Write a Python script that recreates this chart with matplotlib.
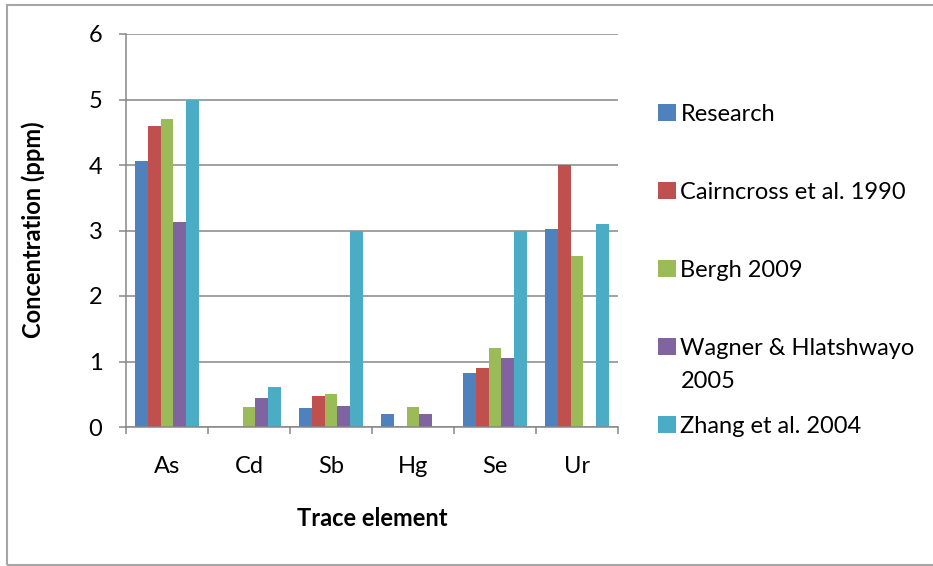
import matplotlib
matplotlib.use("Agg")
import matplotlib.pyplot as plt
from matplotlib.patches import Rectangle
from matplotlib.ticker import FixedLocator, NullFormatter, FixedFormatter
import numpy as np

plt.rcParams['font.family'] = ['Lato', 'DejaVu Sans']

elements = ["As", "Cd", "Sb", "Hg", "Se", "Ur"]
series_names = ["Research", "Cairncross et al. 1990", "Bergh 2009",
                "Wagner & Hlatshwayo", "Zhang et al. 2004"]
research = [4.06, 0.0, 0.29, 0.20, 0.82, 3.02]
cairncross = [4.60, 0.0, 0.47, 0.0, 0.90, 4.00]
bergh = [4.70, 0.30, 0.50, 0.31, 1.20, 2.61]
wagner = [3.13, 0.44, 0.32, 0.20, 1.05, 0.0]
zhang = [5.00, 0.61, 3.00, 0.0, 3.00, 3.10]
series_values = [research, cairncross, bergh, wagner, zhang]
colors = ["#4F81BD", "#C0504D", "#9BBB59", "#8064A2", "#4BACC6"]
y_ticks = [0, 1, 2, 3, 4, 5, 6]

FS = 17
W, H = 933, 566
fig = plt.figure(figsize=(W / 100, H / 100), dpi=100)
ax = fig.add_axes([126 / W, 1 - 427 / H, (618 - 126) / W, (427 - 34) / H])

grid_c = "#878787"
n = len(series_values)
bw = 0.156
centers = np.arange(len(elements)) + 0.5
for j, (vals, c, name) in enumerate(zip(series_values, colors, series_names)):
    ax.bar(centers + (j - (n - 1) / 2) * bw, vals, width=bw, color=c,
           label=name, zorder=3, linewidth=0)

ax.set_xlim(0, len(elements))
ax.set_ylim(0, 6)
ax.set_yticks(y_ticks)
ax.yaxis.grid(True, color=grid_c, linewidth=1.1, zorder=0)
ax.tick_params(axis='y', length=5, width=1.1, color=grid_c, pad=12,
               labelsize=FS)

ax.xaxis.set_major_locator(FixedLocator(np.arange(len(elements) + 1)))
ax.xaxis.set_major_formatter(NullFormatter())
ax.xaxis.set_minor_locator(FixedLocator(centers))
ax.xaxis.set_minor_formatter(FixedFormatter(elements))
ax.tick_params(axis='x', which='major', length=5, width=1.1, color=grid_c)
ax.tick_params(axis='x', which='minor', length=0, pad=21, labelsize=FS)

for s in ["top", "right"]:
    ax.spines[s].set_visible(False)
for s in ["left", "bottom"]:
    ax.spines[s].set_color(grid_c)
    ax.spines[s].set_linewidth(1.1)
    ax.spines[s].set_zorder(4)

fig.text(372 / W, 1 - 518 / H, "Trace element", ha="center", va="center",
         fontsize=FS, fontweight="bold")
fig.text(33 / W, 1 - 230 / H, "Concentration (ppm)", ha="center", va="center",
         rotation=90, fontsize=FS, fontweight="bold")

leg = ax.legend(loc="upper left", bbox_to_anchor=(658 / W, 1 - 104 / H),
                bbox_transform=fig.transFigure, frameon=False, fontsize=FS,
                handlelength=0.75, handleheight=0.75, handletextpad=0.2,
                labelspacing=2.41, borderaxespad=0, borderpad=0)

# second line of the Wagner & Hlatshwayo entry
fig.canvas.draw()
bb = leg.get_texts()[3].get_window_extent()
fig.text(bb.x0 / W, (bb.y0 - 12) / H, "2005", ha="left", va="top", fontsize=FS)

# outer chart border
fig.add_artist(Rectangle((7 / W, 1 - 565 / H), 1.0, (565 - 5) / H,
                         transform=fig.transFigure, fill=False,
                         edgecolor="#a6a6a6", linewidth=1.5))

fig.savefig("out.png", dpi=100)
